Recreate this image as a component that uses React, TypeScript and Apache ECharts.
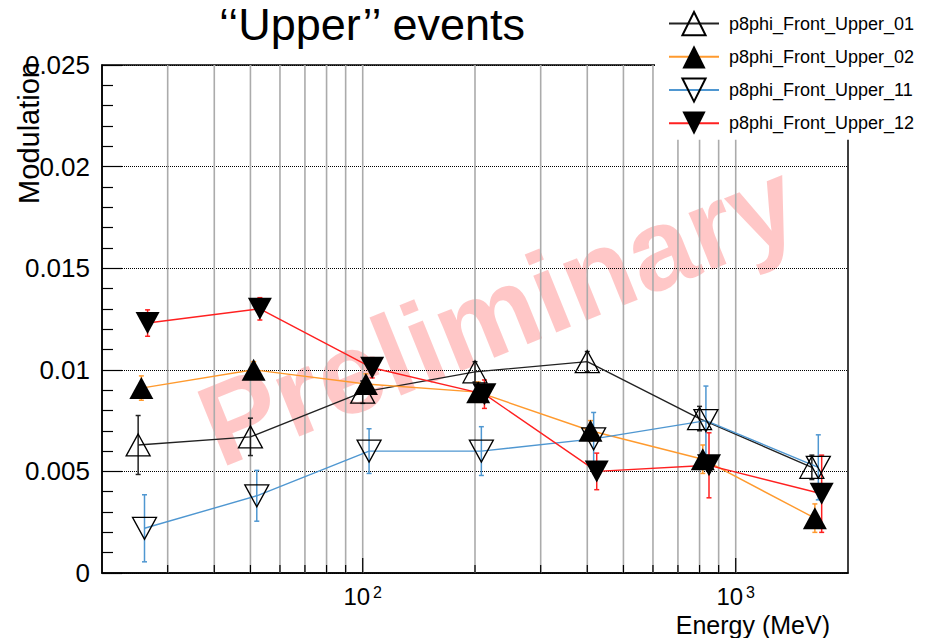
import React, { useEffect, useRef } from "react";
import * as echarts from "echarts";

// Energy bins (MeV) for each configuration; the later ones are nudged right so the markers do not overlap
const energies01 = [25, 50, 100, 200, 400, 800, 1600];
const energies02 = [25.5, 51, 102, 204, 408, 816, 1630];
const energies11 = [26, 52, 104, 208, 416, 832, 1665];
const energies12 = [26.5, 53, 106, 212, 424, 848, 1700];

// Modulation and its uncertainty
const mod01 = [0.0063, 0.0067, 0.0089, 0.0099, 0.0104, 0.0076, 0.0052];
const err01 = [0.00145, 0.00092, 0.00055, 0.0005, 0.0005, 0.0006, 0.0006];
const mod02 = [0.0091, 0.01, 0.0093, 0.0089, 0.007, 0.0056, 0.0027];
const err02 = [0.0006, 0.0004, 0.0005, 0.0005, 0.0005, 0.0007, 0.0007];
const mod11 = [0.0022, 0.0038, 0.006, 0.006, 0.0066, 0.0075, 0.0052];
const err11 = [0.00165, 0.00125, 0.0011, 0.0012, 0.0013, 0.0017, 0.0016];
const mod12 = [0.0123, 0.013, 0.0101, 0.0088, 0.005, 0.0053, 0.0039];
const err12 = [0.00065, 0.00055, 0.0005, 0.0007, 0.0009, 0.0016, 0.0019];

const seriesNames = [
  "p8phi_Front_Upper_01",
  "p8phi_Front_Upper_02",
  "p8phi_Front_Upper_11",
  "p8phi_Front_Upper_12",
];

// Vertical grid at the log-axis sub-divisions
const gridEnergies = [30, 40, 50, 60, 70, 80, 90, 100, 200, 300, 400, 500, 600, 700, 800, 900, 1000];

const X_MIN = 20;
const X_MAX = 2000;
const Y_MIN = 0;
const Y_MAX = 0.025;

const FONT = "'Liberation Sans', Arial, Helvetica, sans-serif";
const DOWN_TRIANGLE = "path://M0,0L24,0L12,22Z";

function errorBarSeries(xs: number[], ys: number[], es: number[], color: string) {
  return {
    type: "custom",
    z: 2,
    silent: true,
    data: xs.map((x, i) => [x, ys[i] - es[i], ys[i] + es[i]]),
    encode: { x: 0, y: [1, 2] },
    renderItem: (params: any, api: any) => {
      const x = api.value(0);
      const lo = api.coord([x, api.value(1)]);
      const hi = api.coord([x, api.value(2)]);
      const style = { stroke: color, lineWidth: 1.5 };
      return {
        type: "group",
        children: [
          { type: "line", shape: { x1: lo[0], y1: lo[1], x2: hi[0], y2: hi[1] }, style },
          { type: "line", shape: { x1: lo[0] - 2.5, y1: lo[1], x2: lo[0] + 2.5, y2: lo[1] }, style },
          { type: "line", shape: { x1: hi[0] - 2.5, y1: hi[1], x2: hi[0] + 2.5, y2: hi[1] }, style },
        ],
      };
    },
  };
}

function lineSeries(
  name: string,
  xs: number[],
  ys: number[],
  lineColor: string,
  symbol: string,
  filled: boolean
) {
  return {
    type: "line",
    name,
    z: 2,
    data: xs.map((x, i) => [x, ys[i]]),
    symbol,
    symbolSize: [24, 22],
    showAllSymbol: true,
    lineStyle: { color: lineColor, width: 1.4 },
    itemStyle: {
      color: filled ? "#000" : "rgba(0,0,0,0)",
      borderColor: "#000",
      borderWidth: filled ? 0 : 1.3,
    },
    emphasis: { disabled: true },
  };
}

export default function App() {
  const ref = useRef<HTMLDivElement>(null);

  useEffect(() => {
    if (!ref.current) return;
    const chart = echarts.init(ref.current, undefined, { renderer: "svg" });

    const option = {
      animation: false,
      backgroundColor: "#fff",
      textStyle: { fontFamily: FONT },
      grid: {
        left: 102,
        right: 85,
        top: 65,
        bottom: 65,
        show: true,
        borderColor: "#000",
        borderWidth: 1.5,
        backgroundColor: "rgba(0,0,0,0)",
      },
      xAxis: {
        type: "log",
        logBase: 10,
        min: X_MIN,
        max: X_MAX,
        axisLine: { show: true, lineStyle: { color: "#000", width: 1.5 } },
        axisTick: { show: false },
        splitLine: { show: false },
        axisLabel: {
          color: "#000",
          fontSize: 24,
          fontFamily: FONT,
          margin: 11,
          showMinLabel: false,
          showMaxLabel: false,
          formatter: (v: number) => {
            const l = Math.log10(v);
            const r = Math.round(l);
            if (Math.abs(l - r) < 1e-6 && (r === 2 || r === 3)) return `10{s|${r}}`;
            return "";
          },
          rich: {
            s: { fontSize: 16, verticalAlign: "top", padding: [0, 0, 0, 3], color: "#000", fontFamily: FONT },
          },
        },
      },
      yAxis: {
        type: "value",
        min: Y_MIN,
        max: Y_MAX,
        interval: 0.005,
        axisLine: { show: true, lineStyle: { color: "#000", width: 1.5 } },
        axisTick: { show: true, inside: true, length: 20, lineStyle: { color: "#000", width: 1.2 } },
        minorTick: { show: true, splitNumber: 5, length: 11, lineStyle: { color: "#000", width: 1.2 } },
        splitLine: { show: true, lineStyle: { color: "#000", width: 1, type: [1, 1] } },
        axisLabel: { color: "#000", fontSize: 26, fontFamily: FONT, margin: 12 },
      },
      legend: {
        orient: "vertical",
        left: 655,
        top: 0,
        padding: [11, 17, 5, 13],
        itemWidth: 50,
        itemHeight: 29,
        itemGap: 9,
        backgroundColor: "#fff",
        selectedMode: false,
        data: seriesNames,
        textStyle: { color: "#000", fontSize: 18, fontFamily: FONT, padding: [0, 0, 0, 5] },
      },
      graphic: [
        {
          type: "text",
          z: 0,
          x: 498,
          y: 313,
          rotation: (22 * Math.PI) / 180,
          silent: true,
          style: {
            text: "Preliminary",
            fill: "rgba(255,0,0,0.22)",
            font: `bold 116px ${FONT}`,
            textAlign: "center",
            textVerticalAlign: "middle",
          },
        },
        {
          type: "text",
          x: 372,
          y: 24,
          style: {
            text: "‘‘Upper’’ events",
            fill: "#000",
            font: `45px ${FONT}`,
            textAlign: "center",
            textVerticalAlign: "middle",
          },
        },
        {
          type: "text",
          x: 29,
          y: 62,
          rotation: Math.PI / 2,
          style: {
            text: "Modulation",
            fill: "#000",
            font: `29px ${FONT}`,
            textAlign: "right",
            textVerticalAlign: "middle",
          },
        },
        {
          type: "text",
          x: 830,
          y: 625,
          style: {
            text: "Energy (MeV)",
            fill: "#000",
            font: `25px ${FONT}`,
            textAlign: "right",
            textVerticalAlign: "middle",
          },
        },
      ],
      series: [
        {
          type: "custom",
          z: 1,
          silent: true,
          data: gridEnergies.map((e) => [e, Y_MIN]),
          encode: { x: 0, y: 1 },
          renderItem: (params: any, api: any) => {
            const e = api.value(0);
            const b = api.coord([e, Y_MIN]);
            const t = api.coord([e, Y_MAX]);
            const l = Math.log10(e);
            const decade = Math.abs(l - Math.round(l)) < 1e-6;
            return {
              type: "group",
              children: [
                {
                  type: "line",
                  shape: { x1: b[0], y1: b[1], x2: t[0], y2: t[1] },
                  style: { stroke: "#ababab", lineWidth: 1.6 },
                },
                {
                  type: "line",
                  shape: { x1: b[0], y1: b[1], x2: b[0], y2: b[1] - (decade ? 15 : 8) },
                  style: { stroke: "#000", lineWidth: 1.2 },
                },
              ],
            };
          },
        },
        errorBarSeries(energies01, mod01, err01, "#222"),
        lineSeries(seriesNames[0], energies01, mod01, "#222", "triangle", false),
        errorBarSeries(energies02, mod02, err02, "#ff9a2e"),
        lineSeries(seriesNames[1], energies02, mod02, "#ff9a2e", "triangle", true),
        errorBarSeries(energies11, mod11, err11, "#4f97d1"),
        lineSeries(seriesNames[2], energies11, mod11, "#4f97d1", DOWN_TRIANGLE, false),
        errorBarSeries(energies12, mod12, err12, "#ff2020"),
        lineSeries(seriesNames[3], energies12, mod12, "#ff2020", DOWN_TRIANGLE, true),
      ],
    };

    chart.setOption(option as any);
    return () => chart.dispose();
  }, []);

  return (
    <div
      ref={ref}
      style={{ position: "fixed", left: 0, top: 0, width: 933, height: 638, background: "#fff" }}
    />
  );
}
